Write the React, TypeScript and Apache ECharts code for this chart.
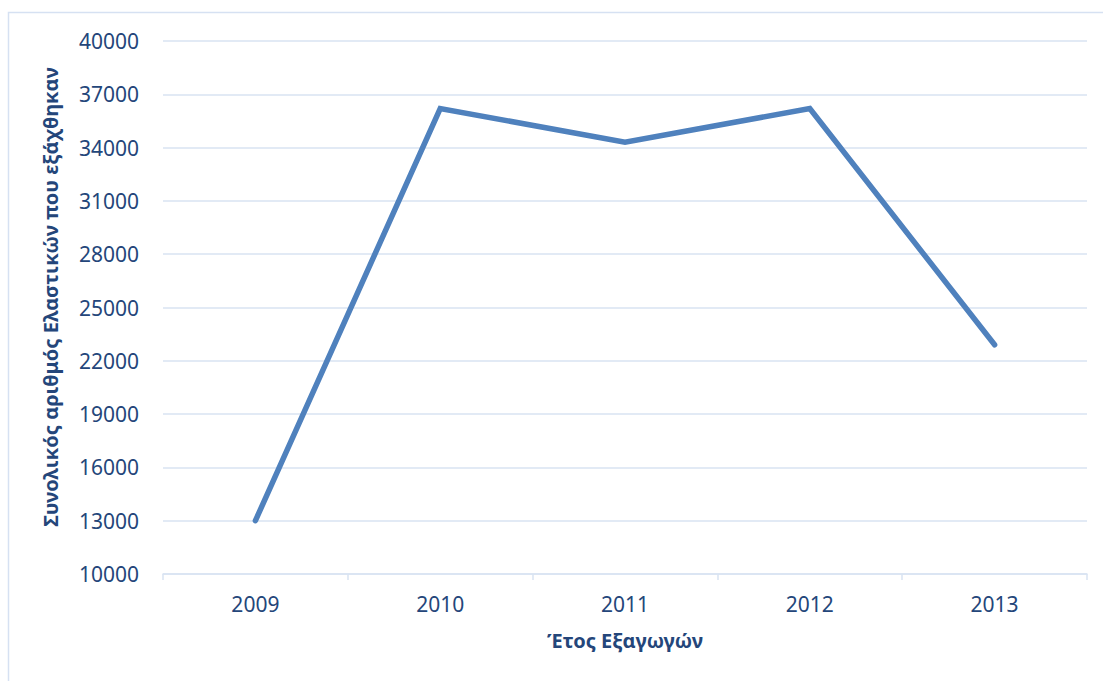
import React, { useEffect, useRef } from "react";
import * as echarts from "echarts";

const years = ["2009", "2010", "2011", "2012", "2013"];
const tires = [13000, 36200, 34300, 36200, 22900];
const yMin = 10000;
const yMax = 40000;
const yStep = 3000;
const xTitle = "Έτος Εξαγωγών";
const yTitle = "Συνολικός αριθμός Ελαστικών που εξάχθηκαν";

const FONT = "'Noto Sans', 'Open Sans', sans-serif";
const TEXT = "#24467A";
const GRID = "#D9E3F2";

export default function App() {
  const ref = useRef<HTMLDivElement>(null);
  useEffect(() => {
    if (!ref.current) return;
    const chart = echarts.init(ref.current, undefined, { renderer: "svg" });
    chart.setOption({
      animation: false,
      backgroundColor: "#ffffff",
      textStyle: { fontFamily: FONT },
      graphic: [
        {
          type: "rect",
          shape: { x: 8.5, y: 12.5, width: 1200, height: 800 },
          style: { fill: "none", stroke: "#D6E1F2", lineWidth: 1.5 },
          silent: true,
        },
        {
          type: "text",
          x: 50,
          y: 297,
          rotation: Math.PI / 2,
          style: {
            text: yTitle,
            fill: TEXT,
            font: "bold 20px 'Noto Sans', 'Open Sans', sans-serif",
            align: "center",
            verticalAlign: "middle",
          },
          silent: true,
        },
      ],
      grid: { left: 163, right: 16, top: 41, bottom: 107 },
      xAxis: {
        type: "category",
        data: years,
        boundaryGap: true,
        name: xTitle,
        nameLocation: "middle",
        nameGap: 56,
        nameTextStyle: { color: TEXT, fontSize: 20, fontWeight: "bold", fontFamily: FONT },
        axisLine: { show: true, lineStyle: { color: GRID, width: 1.5 } },
        axisTick: { show: true, length: 6, lineStyle: { color: GRID, width: 1.5 } },
        axisLabel: { color: TEXT, fontSize: 21, margin: 19, fontFamily: FONT },
        splitLine: { show: false },
      },
      yAxis: {
        type: "value",
        min: yMin,
        max: yMax,
        interval: yStep,
        axisLine: { show: false },
        axisTick: { show: false },
        axisLabel: {
          color: TEXT,
          fontSize: 21,
          margin: 24,
          fontFamily: FONT,
          formatter: (v: number) => String(v),
        },
        splitLine: { show: true, lineStyle: { color: GRID, width: 1.5 } },
      },
      series: [
        {
          type: "line",
          data: tires,
          symbol: "none",
          lineStyle: { color: "#4F81BD", width: 5.5, cap: "round", join: "miter" },
        },
      ],
    });
    return () => chart.dispose();
  }, []);
  return (
    <div
      ref={ref}
      style={{ position: "fixed", left: 0, top: 0, width: 1103, height: 681 }}
    />
  );
}
